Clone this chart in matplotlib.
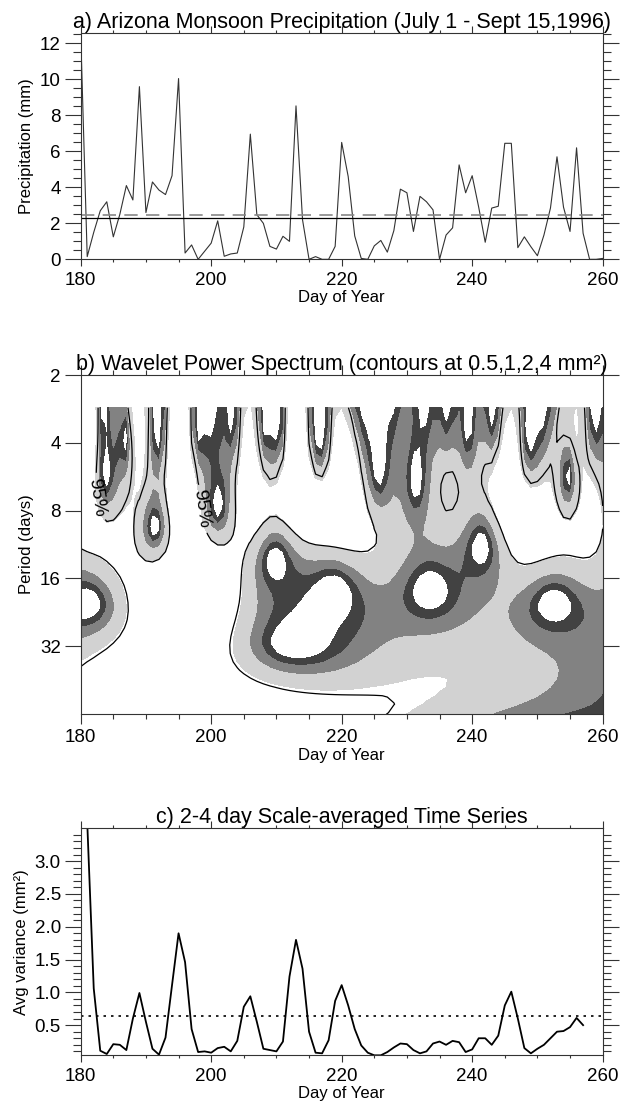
import math
import numpy as np
import matplotlib
matplotlib.use("Agg")
import matplotlib.pyplot as plt
from matplotlib.ticker import MultipleLocator, FixedLocator, NullLocator, FormatStrFormatter

plt.rcParams['font.family'] = ['Liberation Sans', 'DejaVu Sans']

# a) daily precipitation, day 180 .. 260 (mm)
days = np.arange(180, 261)
precip = [12.6, 0.15, 1.5, 2.7, 3.2, 1.25, 2.5, 4.1, 3.3, 9.6,
          2.6, 4.3, 3.85, 3.6, 4.65, 10.05, 0.35, 0.8, 0.0, 0.45,
          0.9, 2.14, 0.17, 0.3, 0.35, 1.8, 6.96, 2.48, 2.0, 0.72,
          0.57, 1.28, 1.0, 8.53, 2.2, 0.0, 0.15, 0.0, 0.0, 0.72,
          6.5, 4.6, 1.3, 0.05, 0.0, 0.75, 1.05, 0.4, 1.6, 3.9,
          3.7, 1.55, 3.5, 3.2, 2.75, 0.0, 1.35, 1.75, 5.25, 3.7,
          4.65, 2.9, 0.95, 2.85, 2.95, 6.45, 6.45, 0.65, 1.25, 0.7,
          0.2, 1.35, 2.85, 5.7, 2.9, 1.55, 6.2, 1.45, 0.0, 0.0, 0.05]
precip_mean = 2.29
precip_dash = 2.46

# b) wavelet contour levels (mm^2)
power_levels = [0.5, 1, 2, 4]
period_ticks = [2, 4, 8, 16, 32]

# c) 2-4 day scale-averaged variance, day 181 .. 257 (mm^2)
avg_days = np.arange(181, 258)
avg_var = [3.6, 1.06, 0.11, 0.06, 0.21, 0.2, 0.12, 0.6, 0.99, 0.55,
           0.14, 0.05, 0.31, 1.11, 1.9, 1.46, 0.44, 0.09, 0.1, 0.08,
           0.15, 0.17, 0.1, 0.26, 0.78, 0.94, 0.55, 0.14, 0.12, 0.1,
           0.25, 1.24, 1.8, 1.36, 0.4, 0.08, 0.07, 0.27, 0.87, 1.11,
           0.8, 0.44, 0.19, 0.08, 0.04, 0.04, 0.09, 0.16, 0.22, 0.21,
           0.12, 0.07, 0.1, 0.22, 0.25, 0.2, 0.26, 0.24, 0.09, 0.13,
           0.3, 0.3, 0.2, 0.34, 0.8, 1.01, 0.6, 0.15, 0.07, 0.14,
           0.2, 0.3, 0.4, 0.41, 0.47, 0.61, 0.5]
avg_signif = 0.64


def paul_power(x, dt, scales, m=4):
    # Paul wavelet transform (Torrence & Compo style), zero padded
    x = np.asarray(x, float)
    n1 = len(x)
    xp = x - x.mean()
    base2 = int(np.fix(np.log2(n1) + 0.4999))
    xp = np.concatenate([xp, np.zeros(2 ** (base2 + 1) - n1)])
    n = len(xp)
    k = np.arange(1, n // 2 + 1) * 2 * np.pi / (n * dt)
    k = np.concatenate([[0.0], k, -k[int((n - 1) / 2) - 1::-1]])
    f = np.fft.fft(xp)
    c = 2 ** m / math.sqrt(m * math.factorial(2 * m - 1))
    wave = np.zeros((len(scales), n), complex)
    for i, s in enumerate(scales):
        sk = np.where(k > 0, s * k, 0.0)
        norm = np.sqrt(s * k[1]) * c * np.sqrt(n)
        wave[i] = np.fft.ifft(f * norm * sk ** m * np.exp(-sk) * (k > 0))
    # |W|^2 / 2 -> variance units of the real series
    return np.abs(wave[:, :n1]) ** 2 / 2


x = np.array(precip)
dt = 1.0
fourier_factor = 4 * np.pi / (2 * 4 + 1)
scales = 2 * dt * 2 ** (np.arange(0, 38) * 0.125)
periods = scales * fourier_factor
power = paul_power(x, dt, scales)

# red-noise 95% level (chi-square, 2 dof), unit-variance background
alpha = np.corrcoef(x[:-1], x[1:])[0, 1]
fft_theor = (1 - alpha ** 2) / (1 + alpha ** 2 - 2 * alpha * np.cos(2 * np.pi * dt / periods))
signif = fft_theor * 5.991 / 2
sig_ratio = power / signif[:, None]

fig = plt.figure(figsize=(6.24, 11.04), dpi=100)
L, W = 0.1293, 0.8365
ax1 = fig.add_axes([L, 0.7651, W, 0.2053])
ax2 = fig.add_axes([L, 0.3533, W, 0.3070])
ax3 = fig.add_axes([L, 0.0441, W, 0.2056])

title_fs = 15.5
lab_fs = 12
tick_fs = 13.5


def style(ax, xlen=4.9):
    ax.set_xlim(180, 260)
    ax.xaxis.set_major_locator(MultipleLocator(20))
    ax.xaxis.set_minor_locator(MultipleLocator(5))
    ax.tick_params(which='both', direction='out', top=True, right=True,
                   labelsize=tick_fs, width=0.8, color='#333333')
    ax.tick_params(axis='x', which='major', length=xlen, pad=4)
    ax.tick_params(axis='x', which='minor', length=xlen / 2)
    ax.tick_params(axis='y', which='major', length=11.3, pad=3)
    ax.tick_params(axis='y', which='minor', length=5.6)
    for sp in ax.spines.values():
        sp.set_linewidth(0.8)
        sp.set_color('#333333')
    ax.set_xlabel("Day of Year", fontsize=lab_fs, labelpad=1)


# panel a
ax1.plot(days, precip, color='#333333', lw=0.8)
ax1.axhline(precip_mean, color='black', lw=0.9)
ax1.axhline(precip_dash, color='#888888', lw=1.2, dashes=(8, 5))
ax1.set_ylim(0, 12.6)
ax1.yaxis.set_major_locator(MultipleLocator(2))
ax1.yaxis.set_minor_locator(MultipleLocator(0.5))
style(ax1)
ax1.set_ylabel("Precipitation (mm)", fontsize=lab_fs)
ax1.set_title("a) Arizona Monsoon Precipitation (July 1 - Sept 15,1996)",
              fontsize=title_fs, pad=3)

# panel b
ax2.contourf(days, periods, power, levels=power_levels,
             colors=['#424242', '#828282', '#d2d2d2'])
cs = ax2.contour(days, periods, sig_ratio, levels=[1], colors='black',
                 linewidths=0.9)
ax2.set_yscale('log', base=2)
ax2.set_ylim(64, 2)
ax2.clabel(cs, fmt={1: '95%'}, fontsize=14, inline=True,
           manual=[(182, 7), (196, 8)])
ax2.yaxis.set_major_locator(FixedLocator(period_ticks))
ax2.yaxis.set_minor_locator(NullLocator())
ax2.set_yticklabels([str(p) for p in period_ticks])
style(ax2, xlen=7.0)
ax2.set_ylabel("Period (days)", fontsize=lab_fs)
ax2.set_title("b) Wavelet Power Spectrum (contours at 0.5,1,2,4 mm²)",
              fontsize=title_fs, pad=3)

# panel c
ax3.plot(avg_days, avg_var, color='black', lw=1.3)
ax3.axhline(avg_signif, color='black', lw=1.2, dashes=(1.5, 3))
ax3.set_ylim(0.04, 3.5)
ax3.yaxis.set_major_locator(FixedLocator([0.5, 1.0, 1.5, 2.0, 2.5, 3.0]))
ax3.yaxis.set_minor_locator(FixedLocator(np.arange(0.1, 3.5, 0.1)))
ax3.yaxis.set_major_formatter(FormatStrFormatter('%.1f'))
style(ax3)
ax3.set_ylabel("Avg variance (mm²)", fontsize=lab_fs)
ax3.set_title("c) 2-4 day Scale-averaged Time Series", fontsize=title_fs, pad=3)

fig.savefig("out.png", dpi=100)
